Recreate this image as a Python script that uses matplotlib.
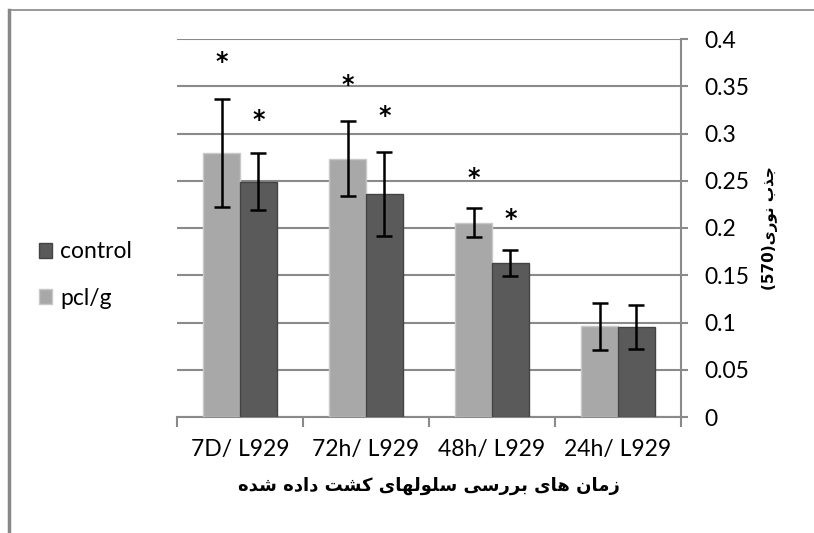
import matplotlib
matplotlib.use('Agg')
import matplotlib.pyplot as plt
import numpy as np
from matplotlib.patches import Patch
from matplotlib.lines import Line2D

plt.rcParams['font.family'] = ['Lato', 'DejaVu Sans']

# data (left to right on the axis)
groups = ['7D/ L929', '72h/ L929', '48h/ L929', '24h/ L929']
pcl_g = [0.279, 0.2735, 0.2055, 0.096]
pcl_g_err = [0.057, 0.040, 0.0155, 0.025]
control = [0.249, 0.236, 0.163, 0.095]
control_err = [0.030, 0.044, 0.014, 0.023]
# significance stars (None = no star)
star_pcl = [0.376, 0.351, 0.253, None]
star_control = [0.314, 0.319, 0.210, None]
yticks = [0, 0.05, 0.1, 0.15, 0.2, 0.25, 0.3, 0.35, 0.4]
ytick_labels = ['0', '0.05', '0.1', '0.15', '0.2', '0.25', '0.3', '0.35', '0.4']

# simple Persian shaping (presentation forms), no external reshaper available
FORMS = {
    'ا': ('\uFE8D', '\uFE8E', None, None),
    'ب': ('\uFE8F', '\uFE90', '\uFE91', '\uFE92'),
    'ت': ('\uFE95', '\uFE96', '\uFE97', '\uFE98'),
    'ج': ('\uFE9D', '\uFE9E', '\uFE9F', '\uFEA0'),
    'د': ('\uFEA9', '\uFEAA', None, None),
    'ذ': ('\uFEAB', '\uFEAC', None, None),
    'ر': ('\uFEAD', '\uFEAE', None, None),
    'ز': ('\uFEAF', '\uFEB0', None, None),
    'س': ('\uFEB1', '\uFEB2', '\uFEB3', '\uFEB4'),
    'ش': ('\uFEB5', '\uFEB6', '\uFEB7', '\uFEB8'),
    'ل': ('\uFEDD', '\uFEDE', '\uFEDF', '\uFEE0'),
    'م': ('\uFEE1', '\uFEE2', '\uFEE3', '\uFEE4'),
    'ن': ('\uFEE5', '\uFEE6', '\uFEE7', '\uFEE8'),
    'ه': ('\uFEE9', '\uFEEA', '\uFEEB', '\uFEEC'),
    'و': ('\uFEED', '\uFEEE', None, None),
    'ی': ('\uFBFC', '\uFBFD', '\uFBFE', '\uFBFF'),
    'ک': ('\uFB8E', '\uFB8F', '\uFB90', '\uFB91'),
}


def shape(text):
    out = []
    for i, ch in enumerate(text):
        if ch not in FORMS:
            out.append(ch)
            continue
        prev = text[i - 1] if i > 0 else ''
        nxt = text[i + 1] if i + 1 < len(text) else ''
        jp = prev in FORMS and FORMS[prev][2] is not None
        jn = nxt in FORMS and FORMS[ch][2] is not None
        iso, fin, ini, med = FORMS[ch]
        if jp and jn:
            out.append(med)
        elif jp:
            out.append(fin)
        elif jn:
            out.append(ini)
        else:
            out.append(iso)
    return ''.join(reversed(out))


xlabel = shape('زمان های بررسی سلولهای کشت داده شده')
ylabel = '(570)' + shape('جذب نوری')

light = '#a8a8a8'
dark = '#5a5a5a'
grid_c = '#8a8a8a'

fig = plt.figure(figsize=(8.14, 5.33), dpi=100)
ax = fig.add_axes([177 / 814, 1 - 417 / 533, 504 / 814, 378 / 533])

x = np.arange(len(groups))
w = 0.29
err_kw = dict(ecolor='black', elinewidth=1.8, capsize=5.5, capthick=1.8)
ax.bar(x - w / 2, pcl_g, w, yerr=pcl_g_err, color=light, edgecolor='#c8c8c8',
       linewidth=1, zorder=3, error_kw=err_kw)
ax.bar(x + w / 2, control, w, yerr=control_err, color=dark, edgecolor='#444444',
       linewidth=1, zorder=3, error_kw=err_kw)

for i in range(len(groups)):
    if star_pcl[i] is not None:
        ax.text(x[i] - w / 2, star_pcl[i], '*', ha='center', va='center', fontsize=17,
                fontweight='bold', family=['DejaVu Sans'], zorder=5)
    if star_control[i] is not None:
        ax.text(x[i] + w / 2, star_control[i], '*', ha='center', va='center', fontsize=17,
                fontweight='bold', family=['DejaVu Sans'], zorder=5)

ax.set_xlim(-0.5, len(groups) - 0.5)
ax.set_ylim(0, 0.4)
ax.yaxis.tick_right()
ax.yaxis.set_label_position('right')
ax.set_yticks(yticks)
ax.set_yticklabels(ytick_labels, fontsize=16.5)
ax.set_xticks(x)
ax.set_xticklabels(groups, fontsize=16.5)
ax.tick_params(axis='x', length=0, pad=16)
ax.tick_params(axis='y', length=5, width=1.5, color=grid_c, pad=12)
# category boundary ticks
ax.set_xticks(np.arange(len(groups) + 1) - 0.5, minor=True)
ax.tick_params(axis='x', which='minor', length=7, width=1.5, color=grid_c)

ax.grid(axis='y', color=grid_c, linewidth=1.5, zorder=0)
ax.set_axisbelow(True)
for s in ['top', 'left']:
    ax.spines[s].set_visible(False)
ax.spines['right'].set_color(grid_c)
ax.spines['right'].set_linewidth(1.5)
ax.spines['bottom'].set_color(grid_c)
ax.spines['bottom'].set_linewidth(1.5)

ax.set_xlabel(xlabel, fontsize=13, fontweight='bold', family=['DejaVu Sans'], labelpad=12)
ax.set_ylabel(ylabel, fontsize=11, fontweight='bold', family=['DejaVu Sans'],
              rotation=90, labelpad=9)

handles = [Patch(facecolor=dark, edgecolor='#444444'), Patch(facecolor=light, edgecolor='#c8c8c8')]
fig.legend(handles, ['control', 'pcl/g'], loc='center left', bbox_to_anchor=(18 / 814, 1 - 275 / 533),
           frameon=False, fontsize=16.5, handlelength=0.6, handleheight=0.6, handletextpad=0.35,
           labelspacing=1.1)

# outer chart frame (left and top edges)
fig.add_artist(Line2D([9 / 814, 9 / 814], [0, 1 - 10 / 533], color='#888888', linewidth=2.5,
                      transform=fig.transFigure))
fig.add_artist(Line2D([9 / 814, 1], [1 - 10 / 533, 1 - 10 / 533], color='#888888', linewidth=1.2,
                      transform=fig.transFigure))

fig.savefig('out.png', dpi=100, facecolor='white')
